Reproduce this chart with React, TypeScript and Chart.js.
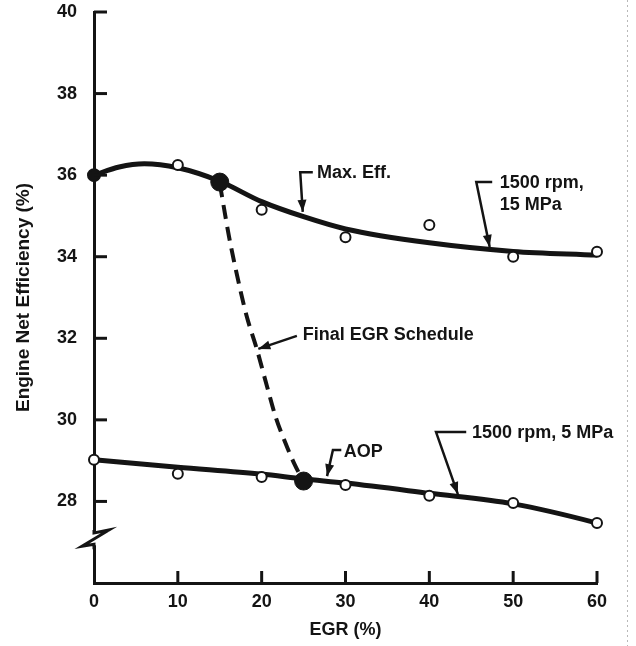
import React, { useEffect, useRef } from "react";
import { Chart, registerables } from "chart.js";

Chart.register(...registerables);

// ---- data ----
const egrTicks = [0, 10, 20, 30, 40, 50, 60];
const effTicks = [26, 28, 30, 32, 34, 36, 38, 40];

// 1500 rpm, 15 MPa – fitted curve and measured points
const hiCurveEgr = [0, 3, 6, 10, 15, 20, 25, 30, 40, 50, 60, 62];
const hiCurveEff = [36.0, 36.2, 36.28, 36.18, 35.85, 35.35, 34.98, 34.68, 34.34, 34.13, 34.04, 34.02];
const hiPointEgr = [0, 10, 20, 30, 40, 50, 60];
const hiPointEff = [36.0, 36.25, 35.15, 34.48, 34.78, 34.0, 34.12];

// 1500 rpm, 5 MPa – fitted curve and measured points
const loCurveEgr = [0, 10, 20, 25, 30, 40, 50, 60, 62];
const loCurveEff = [29.02, 28.84, 28.67, 28.55, 28.45, 28.2, 27.94, 27.47, 27.35];
const loPointEgr = [0, 10, 20, 30, 40, 50, 60];
const loPointEff = [29.02, 28.68, 28.6, 28.4, 28.14, 27.96, 27.47];

// Final EGR schedule (dashed)
const schedEgr = [15.0, 15.5, 16.1, 16.9, 18.2, 19.4, 20.6, 21.7, 22.8, 23.9, 24.9];
const schedEff = [35.8, 35.2, 34.5, 33.7, 32.55, 31.75, 30.85, 30.05, 29.45, 28.92, 28.52];

// Max. Eff. and AOP points
const selEgr = [15, 25];
const selEff = [35.83, 28.5];

const INK = "#141414";
const FONT = "'Liberation Sans', Arial, Helvetica, sans-serif";

// annotation placement (data coordinates)
const notes = [
  { lines: ["Max. Eff."], at: [26.6, 36.05], path: [[26.1, 36.07], [24.6, 36.07], [24.9, 35.1]] },
  { lines: ["1500 rpm,", "15 MPa"], at: [48.4, 35.81], path: [[47.5, 35.83], [45.6, 35.83], [47.2, 34.24]] },
  { lines: ["Final EGR Schedule"], at: [24.9, 32.08], path: [[24.2, 32.06], [19.6, 31.74]] },
  { lines: ["AOP"], at: [29.8, 29.21], path: [[29.5, 29.26], [28.5, 29.26], [27.8, 28.62]] },
  { lines: ["1500 rpm, 5 MPa"], at: [45.1, 29.68], path: [[44.4, 29.7], [40.8, 29.7], [43.4, 28.18]] },
];

const pts = (xs: number[], ys: number[]) => xs.map((x, i) => ({ x, y: ys[i] }));

const decorPlugin = {
  id: "decor",
  beforeDraw(chart: any) {
    const ctx = chart.ctx;
    ctx.save();
    ctx.fillStyle = "#ffffff";
    ctx.fillRect(0, 0, chart.width, chart.height);
    // faint scan edge on the right
    ctx.strokeStyle = "#b8b8b8";
    ctx.lineWidth = 1;
    ctx.setLineDash([2, 3]);
    ctx.beginPath();
    ctx.moveTo(627.5, 0);
    ctx.lineTo(627.5, chart.height);
    ctx.stroke();
    ctx.restore();
  },
  afterDraw(chart: any) {
    const ctx = chart.ctx;
    const xs = chart.scales.x;
    const ys = chart.scales.y;
    const L = chart.chartArea.left;
    const B = chart.chartArea.bottom;
    ctx.save();
    ctx.strokeStyle = INK;
    ctx.fillStyle = INK;
    ctx.lineWidth = 3;
    ctx.lineCap = "butt";
    // inward ticks on y axis
    effTicks.filter((v) => v > 26).forEach((v) => {
      const py = ys.getPixelForValue(v);
      ctx.beginPath();
      ctx.moveTo(L, py);
      ctx.lineTo(L + 13, py);
      ctx.stroke();
    });
    // upward ticks on x axis
    egrTicks.filter((v) => v > 0).forEach((v) => {
      const px = xs.getPixelForValue(v);
      ctx.beginPath();
      ctx.moveTo(px, B);
      ctx.lineTo(px, B - 12);
      ctx.stroke();
    });
    // axis break
    const yb1 = ys.getPixelForValue(27.25);
    const yb2 = ys.getPixelForValue(26.9);
    ctx.fillStyle = "#ffffff";
    ctx.fillRect(L - 4, yb1 + 1, 8, yb2 - yb1 - 2);
    ctx.beginPath();
    ctx.moveTo(L, yb1 - 2);
    ctx.lineTo(L, yb1 + 1);
    ctx.lineTo(L + 15, yb1 - 2);
    ctx.lineTo(L - 12, yb2);
    ctx.lineTo(L, yb2 - 2);
    ctx.lineTo(L, yb2 + 3);
    ctx.stroke();

    // annotations
    ctx.fillStyle = INK;
    ctx.font = `bold 18px ${FONT}`;
    ctx.textAlign = "left";
    ctx.textBaseline = "middle";
    notes.forEach((n) => {
      const tx = xs.getPixelForValue(n.at[0]);
      const ty = ys.getPixelForValue(n.at[1]);
      n.lines.forEach((s, i) => ctx.fillText(s, tx, ty + i * 22));
      const p = n.path.map(([a, b]) => [xs.getPixelForValue(a), ys.getPixelForValue(b)]);
      ctx.lineWidth = 2.5;
      ctx.beginPath();
      ctx.moveTo(p[0][0], p[0][1]);
      for (let i = 1; i < p.length; i++) ctx.lineTo(p[i][0], p[i][1]);
      ctx.stroke();
      const [x2, y2] = p[p.length - 1];
      const [x1, y1] = p[p.length - 2];
      const ang = Math.atan2(y2 - y1, x2 - x1);
      const len = 12, hw = 4.5;
      ctx.beginPath();
      ctx.moveTo(x2, y2);
      ctx.lineTo(x2 - len * Math.cos(ang) + hw * Math.sin(ang), y2 - len * Math.sin(ang) - hw * Math.cos(ang));
      ctx.lineTo(x2 - len * Math.cos(ang) - hw * Math.sin(ang), y2 - len * Math.sin(ang) + hw * Math.cos(ang));
      ctx.closePath();
      ctx.fill();
    });
    ctx.restore();
  },
};

export default function App() {
  const ref = useRef<HTMLCanvasElement | null>(null);
  useEffect(() => {
    if (!ref.current) return;
    const tickFont = { family: FONT, size: 18, weight: "bold" as const };
    const chart = new Chart(ref.current, {
      type: "scatter",
      data: {
        datasets: [
          {
            label: "selected",
            data: pts(selEgr, selEff),
            showLine: false,
            pointRadius: 9,
            pointBackgroundColor: INK,
            pointBorderColor: INK,
            pointBorderWidth: 1,
            clip: false,
          },
          {
            label: "15 MPa points",
            data: pts(hiPointEgr, hiPointEff),
            showLine: false,
            pointRadius: (c: any) => (c.dataIndex === 0 ? 6 : 5),
            pointBackgroundColor: (c: any) => (c.dataIndex === 0 ? INK : "#ffffff"),
            pointBorderColor: INK,
            pointBorderWidth: 2,
            clip: false,
          },
          {
            label: "5 MPa points",
            data: pts(loPointEgr, loPointEff),
            showLine: false,
            pointRadius: 5,
            pointBackgroundColor: "#ffffff",
            pointBorderColor: INK,
            pointBorderWidth: 2,
            clip: false,
          },
          {
            label: "Final EGR Schedule",
            data: pts(schedEgr, schedEff),
            showLine: true,
            borderColor: INK,
            borderWidth: 4,
            borderDash: [14, 8],
            pointRadius: 0,
            cubicInterpolationMode: "monotone",
            clip: false,
          },
          {
            label: "1500 rpm, 15 MPa",
            data: pts(hiCurveEgr, hiCurveEff),
            showLine: true,
            borderColor: INK,
            borderWidth: 5,
            pointRadius: 0,
            cubicInterpolationMode: "monotone",
            clip: false,
          },
          {
            label: "1500 rpm, 5 MPa",
            data: pts(loCurveEgr, loCurveEff),
            showLine: true,
            borderColor: INK,
            borderWidth: 5,
            pointRadius: 0,
            cubicInterpolationMode: "monotone",
            clip: false,
          },
        ],
      },
      options: {
        animation: false,
        responsive: true,
        maintainAspectRatio: false,
        layout: { padding: { top: 12, right: 39, left: 0, bottom: 0 } },
        plugins: { legend: { display: false }, tooltip: { enabled: false } },
        scales: {
          x: {
            type: "linear",
            min: 0,
            max: 60,
            afterFit: (s: any) => {
              s.height = 63;
            },
            afterBuildTicks: (s: any) => {
              s.ticks = egrTicks.map((v) => ({ value: v }));
            },
            grid: { display: false, drawTicks: true, tickLength: 8 },
            border: { display: true, color: INK, width: 3 },
            ticks: { font: tickFont, color: INK, padding: 0, maxRotation: 0 },
            title: {
              display: true,
              text: "EGR (%)",
              font: tickFont,
              color: INK,
              padding: { top: 0, bottom: 5 },
            },
          },
          y: {
            type: "linear",
            min: 26,
            max: 40,
            afterFit: (s: any) => {
              s.width = 94;
            },
            afterBuildTicks: (s: any) => {
              s.ticks = effTicks.map((v) => ({ value: v }));
            },
            grid: { display: false, drawTicks: true, tickLength: 17 },
            border: { display: true, color: INK, width: 3 },
            ticks: {
              font: tickFont,
              color: INK,
              padding: 0,
              callback: (v: any) => (Number(v) === 26 ? "" : String(v)),
            },
            title: {
              display: true,
              text: "Engine Net Efficiency (%)",
              font: { family: FONT, size: 19, weight: "bold" },
              color: INK,
              padding: { top: 12, bottom: 0 },
            },
          },
        },
      },
      plugins: [decorPlugin],
    } as any);
    return () => chart.destroy();
  }, []);
  return (
    <div style={{ position: "absolute", left: 0, top: 0, width: 636, height: 646, background: "#fff" }}>
      <canvas ref={ref} style={{ display: "block" }} />
    </div>
  );
}
